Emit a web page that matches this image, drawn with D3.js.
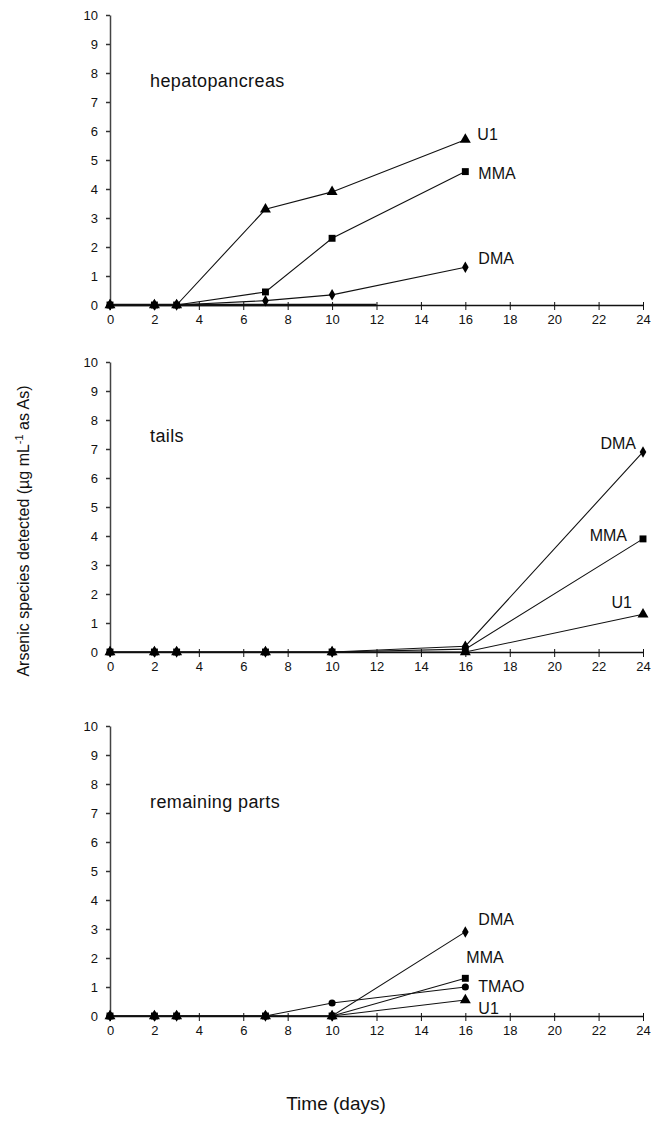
<!DOCTYPE html>
<html>
<head>
<meta charset="utf-8">
<script src="https://cdn.jsdelivr.net/npm/d3@7"></script>
<style>
  body { margin: 0; background: #fff; }
  text { font-family: "Liberation Sans", Arial, sans-serif; fill: #111; }
</style>
</head>
<body>
<div id="chart"></div>
<script>
// tick labels
var xTicks = [0, 2, 4, 6, 8, 10, 12, 14, 16, 18, 20, 22, 24];
var yTicks = [0, 1, 2, 3, 4, 5, 6, 7, 8, 9, 10];

// sampling days
var daysShort = [0, 2, 3, 7, 10, 16];
var daysLong = [0, 2, 3, 7, 10, 16, 24];

// hepatopancreas
var hepU1 = [0, 0, 0, 3.3, 3.9, 5.7];
var hepMMA = [0, 0, 0, 0.45, 2.3, 4.6];
var hepDMA = [0, 0, 0, 0.15, 0.35, 1.3];
var hepZeroDays = [0, 12];
var hepZero = [0, 0];

// tails
var tailDMA = [0, 0, 0, 0, 0, 0.2, 6.9];
var tailMMA = [0, 0, 0, 0, 0, 0.1, 3.9];
var tailU1 = [0, 0, 0, 0, 0, 0, 1.3];

// remaining parts
var remDMA = [0, 0, 0, 0, 0, 2.9];
var remMMA = [0, 0, 0, 0, 0, 1.3];
var remTMAO = [0, 0, 0, 0, 0.45, 1.0];
var remU1 = [0, 0, 0, 0, 0, 0.55];

var W = 652, H = 1121;
var svg = d3.select("#chart").append("svg")
    .attr("width", W)
    .attr("height", H);

var x = d3.scaleLinear().domain([0, 24]).range([110, 643]);

function zip(days, vals) {
    return days.map(function (d, i) { return { t: d, v: vals[i] }; });
}

var shapes = {
    tri: d3.symbol().type(d3.symbolTriangle).size(52),
    sq: d3.symbol().type(d3.symbolSquare).size(48),
    dia: d3.symbol().type(d3.symbolDiamond).size(38),
    circ: d3.symbol().type(d3.symbolCircle).size(40)
};

var panels = [
    {
        name: "hepatopancreas", top: 15, bottom: 305, labelY: 72,
        series: [
            { days: hepZeroDays, vals: hepZero, shape: null, width: 2.5 },
            { days: daysShort, vals: hepDMA, shape: "dia", label: "DMA", dx: 13, dy: -3, anchor: "start" },
            { days: daysShort, vals: hepMMA, shape: "sq", label: "MMA", dx: 13, dy: 7, anchor: "start" },
            { days: daysShort, vals: hepU1, shape: "tri", label: "U1", dx: 12, dy: 0, anchor: "start" }
        ]
    },
    {
        name: "tails", top: 362, bottom: 652, labelY: 80,
        series: [
            { days: daysLong, vals: tailU1, shape: "tri", label: "U1", dx: -11, dy: -6, anchor: "end" },
            { days: daysLong, vals: tailMMA, shape: "sq", label: "MMA", dx: -16, dy: 2, anchor: "end" },
            { days: daysLong, vals: tailDMA, shape: "dia", label: "DMA", dx: -7, dy: -3, anchor: "end" }
        ]
    },
    {
        name: "remaining parts", top: 726, bottom: 1016, labelY: 82,
        series: [
            { days: daysShort, vals: remU1, shape: "tri", label: "U1", dx: 13, dy: 14, anchor: "start" },
            { days: daysShort, vals: remTMAO, shape: "circ", label: "TMAO", dx: 13, dy: 5, anchor: "start" },
            { days: daysShort, vals: remMMA, shape: "sq", label: "MMA", dx: 1, dy: -15, anchor: "start" },
            { days: daysShort, vals: remDMA, shape: "dia", label: "DMA", dx: 13, dy: -7, anchor: "start" }
        ]
    }
];

panels.forEach(function (p) {
    var y = d3.scaleLinear().domain([0, 10]).range([p.bottom, p.top]);
    var g = svg.append("g");

    // x axis
    var xa = g.append("g")
        .attr("transform", "translate(0," + p.bottom + ")")
        .call(d3.axisBottom(x).tickValues(xTicks).tickSize(5).tickSizeOuter(0).tickPadding(5));
    xa.select(".domain").attr("stroke", "#111").attr("stroke-width", 1.6);
    xa.selectAll(".tick line").attr("stroke", "#111").attr("y1", -3);
    xa.selectAll("text").style("font-size", "13px");

    // y axis
    var ya = g.append("g")
        .attr("transform", "translate(" + x(0) + ",0)")
        .call(d3.axisLeft(y).tickValues(yTicks).tickSize(4).tickSizeOuter(0).tickPadding(8));
    ya.select(".domain").attr("stroke", "#444").attr("stroke-width", 1.5);
    ya.selectAll(".tick line").attr("stroke", "#333").attr("stroke-width", 1.5);
    ya.selectAll("text").style("font-size", "13px");

    var line = d3.line()
        .x(function (d) { return x(d.t); })
        .y(function (d) { return y(d.v); });

    p.series.forEach(function (s) {
        var pts = zip(s.days, s.vals);
        g.append("path")
            .datum(pts)
            .attr("fill", "none")
            .attr("stroke", "#111")
            .attr("stroke-width", s.width || 1.1)
            .attr("d", line);
        if (s.shape) {
            g.selectAll(null)
                .data(pts)
                .enter().append("path")
                .attr("d", shapes[s.shape])
                .attr("transform", function (d) { return "translate(" + x(d.t) + "," + y(d.v) + ")"; })
                .attr("fill", "#000");
        }
        if (s.label) {
            var last = pts[pts.length - 1];
            g.append("text")
                .attr("x", x(last.t) + s.dx)
                .attr("y", y(last.v) + s.dy)
                .attr("text-anchor", s.anchor)
                .style("font-size", "16px")
                .text(s.label);
        }
    });

    // panel title
    g.append("text")
        .attr("x", 150)
        .attr("y", p.top + p.labelY)
        .style("font-size", "18px")
        .style("letter-spacing", "0.4px")
        .text(p.name);
});

// axis titles
var yt = svg.append("text")
    .attr("transform", "translate(29,531) rotate(-90)")
    .attr("text-anchor", "middle")
    .style("font-size", "16px");
yt.append("tspan").text("Arsenic species detected (\u00b5g mL");
yt.append("tspan").attr("dy", -6).style("font-size", "11px").text("-1");
yt.append("tspan").attr("dy", 6).text(" as As)");

svg.append("text")
    .attr("x", 336)
    .attr("y", 1110)
    .attr("text-anchor", "middle")
    .style("font-size", "19px")
    .text("Time (days)");
</script>
</body>
</html>
